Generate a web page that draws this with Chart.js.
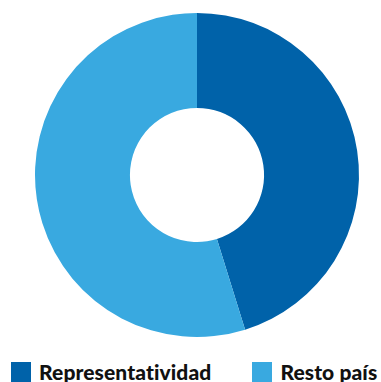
<!DOCTYPE html>
<html>
<head>
<meta charset="utf-8">
<script src="https://cdn.jsdelivr.net/npm/chart.js@4/dist/chart.umd.min.js"></script>
<style>
  html, body { margin: 0; padding: 0; background: #fff; }
  #wrap { position: relative; width: 381px; height: 382px; overflow: hidden; }
  #grafico { position: absolute; left: 0; top: 0; width: 381px; height: 340px; }
  #leyenda {
    position: absolute; left: 11px; top: 362px;
    display: flex; align-items: center; gap: 41px;
    font-family: "Lato", sans-serif; font-weight: 900; font-size: 21px;
    letter-spacing: 0.1px;
    color: #111; line-height: 20px; white-space: nowrap;
  }
  #leyenda .item { display: flex; align-items: center; }
  #leyenda .caja { width: 20px; height: 20px; margin-right: 8px; }
</style>
</head>
<body>
<div id="wrap">
  <div id="grafico"><canvas id="dona"></canvas></div>
  <div id="leyenda"></div>
</div>
<script>
// datos del gráfico
const categorias = ["Representatividad", "Resto país"];
const valores = [45.2, 54.8];
const colores = ["#0062a9", "#39a9e0"];

document.addEventListener("DOMContentLoaded", () => {
  const ctx = document.getElementById("dona").getContext("2d");
  new Chart(ctx, {
    type: "doughnut",
    data: {
      labels: categorias,
      datasets: [{
        data: valores,
        backgroundColor: colores,
        borderWidth: 0,
        hoverOffset: 0
      }]
    },
    options: {
      responsive: true,
      maintainAspectRatio: false,
      animation: false,
      cutout: "41.4%",
      layout: { padding: { top: 13, left: 13, right: 0, bottom: 3 } },
      plugins: {
        tooltip: { enabled: false },
        legend: { display: false }
      }
    }
  });

  // leyenda armada con las mismas categorías y colores
  const ley = document.getElementById("leyenda");
  categorias.forEach((c, i) => {
    const item = document.createElement("div");
    item.className = "item";
    const caja = document.createElement("span");
    caja.className = "caja";
    caja.style.background = colores[i];
    const txt = document.createElement("span");
    txt.textContent = c;
    item.append(caja, txt);
    ley.appendChild(item);
  });
});
</script>
</body>
</html>
